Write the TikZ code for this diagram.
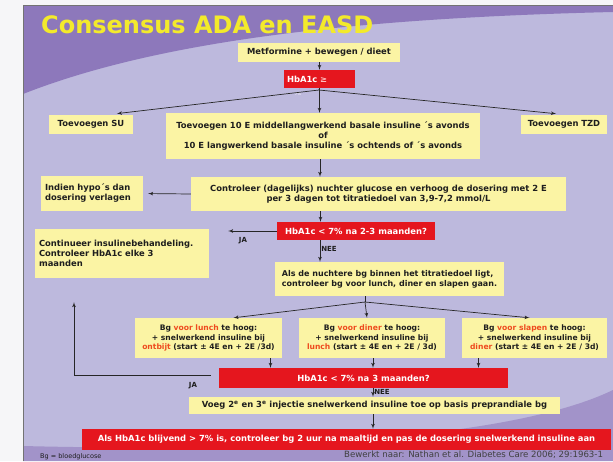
\documentclass[tikz,border=0pt]{standalone}
\usepackage{fontspec}
\setmainfont{DejaVu Sans}
\usepackage{tikz}
\usetikzlibrary{arrows}
\usetikzlibrary{positioning}

\definecolor{slidebg}{HTML}{BDB9DD}
\definecolor{slidetop}{HTML}{8D78BB}
\definecolor{slidebot}{HTML}{A293C9}
\definecolor{boxyellow}{HTML}{FBF4A4}
\definecolor{hbared}{HTML}{E5161E}
\definecolor{wordred}{HTML}{EE4A1E}
\definecolor{titleyellow}{HTML}{F3EA2B}
\definecolor{pagegray}{HTML}{F6F6F8}
\definecolor{textdark}{HTML}{1E1E1E}

\newcommand{\rw}[1]{\textcolor{wordred}{#1}}

\begin{document}
\begin{tikzpicture}[x=1pt,y=-1pt,>=latex',
                    box/.style={fill=boxyellow,text=textdark,inner sep=2pt,align=center,
                                font=\bfseries\fontsize{8.4}{10}\selectfont},
                    smallbox/.style={box,font=\bfseries\fontsize{7.6}{9.4}\selectfont},
                    redbox/.style={box,fill=hbared,text=white},
                    lab/.style={font=\bfseries\fontsize{7}{8}\selectfont,text=textdark,inner sep=1pt},
                    conn/.style={->,line width=0.7pt,black!85},
                    titletext/.style={anchor=base west,inner sep=0pt,text=titleyellow,
                                      font=\bfseries\fontsize{24}{28}\selectfont}]

  \useasboundingbox (0,0) rectangle (613,461);
  \fill[pagegray] (0,0) rectangle (613,461);
  \fill[slidebg] (23,5) rectangle (613,461);
  \fill[slidetop] (23,5) -- (23,94) .. controls (160,40) and (360,18) .. (613,12) -- (613,5) -- cycle;
  \fill[slidebot] (23,461) -- (23,446) .. controls (260,452) and (510,440) .. (613,390) -- (613,461) -- cycle;
  \draw[black!55,line width=0.8pt] (23,461) -- (23,5) -- (613,5);

  \node[titletext] (title) at (41,33) {Consensus ADA en EASD};

  \node[box,minimum width=162pt,minimum height=19pt] (metf) at (319,52.5) {Metformine + bewegen / dieet};
  \node[redbox,minimum width=71pt,minimum height=18pt,text width=65pt,align=left] (hba) at (319.5,79) {HbA1c \textcolor{red!25}{≥}};
  \node[text=white,font=\fontsize{4}{4}\selectfont,inner sep=0pt] (seven) at (298,94) {7\%};
  \coordinate (J) at (319,90);

  \node[box,minimum width=84pt,minimum height=19pt] (su) at (91,124) {Toevoegen SU};
  \node[box,minimum width=314pt,minimum height=46pt] (ins) at (323,136)
    {Toevoegen 10 E middellangwerkend basale insuline ´s avonds\\of\\10 E langwerkend basale insuline ´s ochtends of ´s avonds};
  \node[box,minimum width=86pt,minimum height=19pt] (tzd) at (564,124) {Toevoegen TZD};

  \node[box,minimum width=375pt,minimum height=34pt] (ctrl) at (378.5,194)
    {Controleer (dagelijks) nuchter glucose en verhoog de dosering met 2 E\\per 3 dagen tot titratiedoel van 3,9-7,2 mmol/L};
  \node[box,minimum width=102pt,minimum height=35pt,text width=94pt,align=left] (hypo) at (92,193.5)
    {Indien hypo´s dan\\dosering verlagen};

  \node[redbox,minimum width=158pt,minimum height=18pt] (ask1) at (356,231) {HbA1c < 7\% na 2-3 maanden?};
  \node[box,minimum width=174pt,minimum height=49pt,text width=166pt,align=left] (cont) at (122,253.5)
    {Continueer insulinebehandeling.\\Controleer HbA1c elke 3\\maanden};
  \node[box,minimum width=229pt,minimum height=34pt,align=left,
        font=\bfseries\fontsize{8}{10}\selectfont] (als) at (389.5,279)
    {Als de nuchtere bg binnen het titratiedoel ligt,\\controleer bg voor lunch, diner en slapen gaan.};
  \coordinate (K) at (365,302);

  \node[smallbox,minimum width=147pt,minimum height=40pt] (lunch) at (208.5,338)
    {Bg \rw{voor lunch} te hoog:\\+ snelwerkend insuline bij\\\rw{ontbijt} (start ± 4E en + 2E /3d)};
  \node[smallbox,minimum width=146pt,minimum height=40pt] (diner) at (372,338)
    {Bg \rw{voor diner} te hoog:\\+ snelwerkend insuline bij\\\rw{lunch} (start ± 4E en + 2E / 3d)};
  \node[smallbox,minimum width=145pt,minimum height=40pt] (slapen) at (534.5,338)
    {Bg \rw{voor slapen} te hoog:\\+ snelwerkend insuline bij\\\rw{diner} (start ± 4E en + 2E / 3d)};

  \node[redbox,minimum width=289pt,minimum height=20pt] (ask2) at (363.5,378) {HbA1c < 7\% na 3 maanden?};
  \node[box,minimum width=371pt,minimum height=17pt] (voeg) at (374.5,405.5)
    {Voeg 2\textsuperscript{e} en 3\textsuperscript{e} injectie snelwerkend insuline toe op basis preprandiale bg};
  \node[redbox,minimum width=529pt,minimum height=21pt] (last) at (346.5,439.5)
    {Als HbA1c blijvend > 7\% is, controleer bg 2 uur na maaltijd en pas de dosering snelwerkend insuline aan};

  \node[anchor=base west,inner sep=0pt,text=textdark,font=\fontsize{6.5}{7}\selectfont] (bgnote) at (40,458) {Bg = bloedglucose};
  \node[anchor=base west,inner sep=0pt,text=black!75,font=\fontsize{8.6}{9}\selectfont] (source) at (344,457)
    {Bewerkt naar: Nathan et al. Diabetes Care 2006; 29:1963-1};

  \path[conn]
    (metf.south -| hba.south) edge (hba.north)
    (J) edge[shorten >=6pt] ([xshift=20pt]su.north)
        edge[shorten >=6pt] ([xshift=-2pt]tzd.north)
    (hba.south) edge (hba.south |- ins.north)
    ([xshift=-3pt]ins.south) edge ([xshift=-3pt]ins.south |- ctrl.north)
    (ctrl.west) edge[shorten >=5pt] (hypo.east)
    ([xshift=-58pt]ctrl.south) edge ([xshift=-58pt]ctrl.south |- ask1.north)
    (ask1.west) edge[shorten >=19pt] node[lab,below=5pt,pos=0.5] {JA} (ask1.west -| cont.east)
    ([xshift=-36pt]ask1.south) edge node[lab,right,pos=0.4] {NEE} ([xshift=-36pt]ask1.south |- als.north)
    (K) edge ([xshift=25pt]lunch.north)
        edge ([xshift=-5pt]diner.north)
        edge ([xshift=-5pt]slapen.north)
    ([xshift=62pt]lunch.south) edge ([xshift=62pt]lunch.south |- ask2.north)
    ([xshift=1pt]diner.south) edge ([xshift=1pt]diner.south |- ask2.north)
    ([xshift=-56pt]slapen.south) edge ([xshift=-56pt]slapen.south |- ask2.north)
    ([xshift=9.5pt]ask2.south) edge node[lab,right,pos=0.4] {NEE} ([xshift=9.5pt]ask2.south |- voeg.north)
    ([xshift=-1.5pt]voeg.south) edge ([xshift=-1.5pt]voeg.south |- last.north);

  \draw[line width=0.7pt,black!85] (J) -- (hba.south);
  \draw[conn,shorten <=8pt,shorten >=24pt] ([yshift=3pt]ask2.west) -| ([xshift=-48pt]cont.south);
  \node[lab] (ja2) at (193,386) {JA};
  \draw[line width=0.7pt,black!85] (als.south -| K) -- (K);
\end{tikzpicture}
\end{document}
